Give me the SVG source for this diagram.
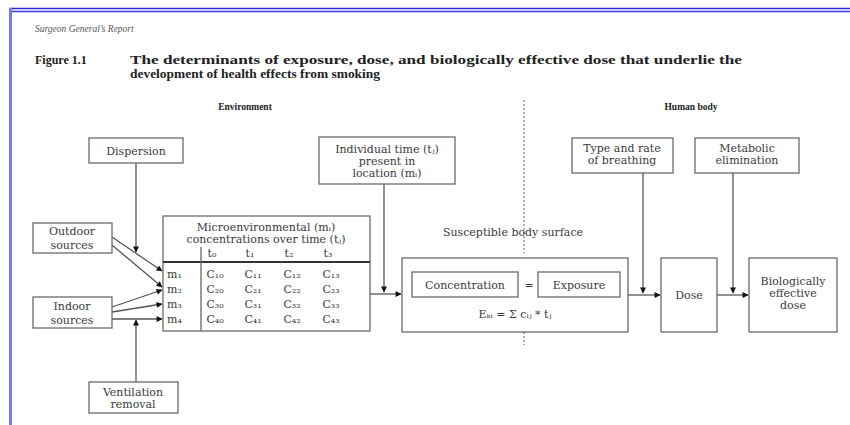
<svg xmlns="http://www.w3.org/2000/svg" width="850" height="425" viewBox="0 0 850 425">
<defs>
<marker id="ah" viewBox="0 0 10 10" refX="9" refY="5" markerWidth="7" markerHeight="6" orient="auto" markerUnits="userSpaceOnUse">
<path d="M0,0 L10,5 L0,10 z" fill="#111"/>
</marker>
</defs>
<style>
.bx{fill:#fff;stroke:#6a6a6a;stroke-width:1.3}
.t{font-family:"DejaVu Serif","Liberation Serif",serif;fill:#3a3a3a;font-size:11px}
.tb{font-family:"Liberation Serif","DejaVu Serif",serif;fill:#222;font-weight:bold}
.c{text-anchor:middle}
.ln{stroke:#666;stroke-width:1.3;fill:none}
.la{stroke:#555;stroke-width:1.3;fill:none;marker-end:url(#ah)}
</style>
<rect x="0" y="0" width="850" height="425" fill="#fff"/>
<g id="frame">
<line x1="9" y1="8.5" x2="850" y2="8.5" stroke="#2b2bdd" stroke-width="1.3"/>
<line x1="9" y1="11.5" x2="850" y2="11.5" stroke="#3b3bee" stroke-width="1.3"/>
<line x1="10.5" y1="8" x2="10.5" y2="425" stroke="#7a7af5" stroke-width="3"/>
</g>
<g id="header">
<text x="35" y="32" font-family="Liberation Serif, serif" font-style="italic" font-size="9.5" fill="#555">Surgeon General’s Report</text>
<text class="tb" x="35" y="64" font-size="12">Figure 1.1</text>
<text class="tb" x="130" y="64" font-size="12" textLength="612" lengthAdjust="spacingAndGlyphs">The determinants of exposure, dose, and biologically effective dose that underlie the</text>
<text class="tb" x="130" y="78" font-size="12" textLength="250" lengthAdjust="spacingAndGlyphs">development of health effects from smoking</text>
<text class="tb c" x="245" y="110" font-size="9.5">Environment</text>
<text class="tb c" x="691" y="110" font-size="9.5">Human body</text>
</g>
<g id="divider">
<line x1="524" y1="100" x2="524" y2="253" stroke="#888" stroke-width="1.3" stroke-dasharray="2,2"/>
<line x1="524" y1="332" x2="524" y2="345" stroke="#888" stroke-width="1.3" stroke-dasharray="2,2"/>
</g>
<g id="connectors">
<line class="la" x1="136" y1="162" x2="136" y2="252"/>
<line class="la" x1="112" y1="237" x2="162" y2="271"/>
<line class="la" x1="112" y1="245" x2="162" y2="287"/>
<line class="la" x1="112" y1="307" x2="162" y2="290"/>
<line class="la" x1="112" y1="312" x2="162" y2="304"/>
<line class="la" x1="112" y1="319" x2="162" y2="319"/>
<line class="la" x1="136" y1="382" x2="136" y2="320"/>
<line class="la" x1="384" y1="184" x2="384" y2="292"/>
<line class="la" x1="370" y1="294" x2="401" y2="294"/>
<line class="la" x1="643" y1="173" x2="643" y2="293"/>
<line class="la" x1="628" y1="295" x2="660" y2="295"/>
<line class="la" x1="733" y1="173" x2="733" y2="293"/>
<line class="la" x1="717" y1="295" x2="748" y2="295"/>
</g>
<g id="dispersion">
<rect class="bx" x="89" y="138" width="94" height="25"/>
<text class="t c" x="136" y="155" font-size="11.5">Dispersion</text>
</g>
<g id="outdoor">
<rect class="bx" x="33" y="223" width="79" height="30"/>
<text class="t c" x="72" y="235" font-size="10.5">Outdoor</text>
<text class="t c" x="72" y="249" font-size="8">sources</text>
</g>
<g id="indoor">
<rect class="bx" x="33" y="297" width="79" height="31"/>
<text class="t c" x="72" y="310" font-size="10.5">Indoor</text>
<text class="t c" x="72" y="324" font-size="8">sources</text>
</g>
<g id="ventilation">
<rect class="bx" x="89" y="382" width="89" height="31"/>
<text class="t c" x="133" y="396" font-size="11">Ventilation</text>
<text class="t c" x="133" y="408" font-size="10.5">removal</text>
</g>
<g id="table">
<rect class="bx" x="163" y="216" width="207" height="115"/>
<text class="t c" x="266" y="231" font-size="11">Microenvironmental (mᵢ)</text>
<text class="t c" x="266" y="243" font-size="11">concentrations over time (tⱼ)</text>
<line x1="163" y1="262" x2="370" y2="262" stroke="#333" stroke-width="2"/>
<line class="ln" x1="201" y1="247" x2="201" y2="331"/>
<g class="t c" font-size="9">
<text x="212" y="257">t₀</text><text x="250" y="257">t₁</text><text x="289" y="257">t₂</text><text x="328" y="257">t₃</text>
</g>
<g class="t" font-size="11">
<text x="167" y="278">m₁</text><text x="167" y="293">m₂</text><text x="167" y="308">m₃</text><text x="167" y="323">m₄</text>
</g>
<g class="t c" font-size="11">
<text x="215" y="278">C₁₀</text><text x="253" y="278">C₁₁</text><text x="292" y="278">C₁₂</text><text x="331" y="278">C₁₃</text>
<text x="215" y="293">C₂₀</text><text x="253" y="293">C₂₁</text><text x="292" y="293">C₂₂</text><text x="331" y="293">C₂₃</text>
<text x="215" y="308">C₃₀</text><text x="253" y="308">C₃₁</text><text x="292" y="308">C₃₂</text><text x="331" y="308">C₃₃</text>
<text x="215" y="323">C₄₀</text><text x="253" y="323">C₄₁</text><text x="292" y="323">C₄₂</text><text x="331" y="323">C₄₃</text>
</g>
</g>
<g id="individual-time">
<rect class="bx" x="319" y="137" width="136" height="47"/>
<text class="t c" x="387" y="153" font-size="10.5">Individual time (tⱼ)</text>
<text class="t c" x="387" y="165" font-size="10.5">present in</text>
<text class="t c" x="387" y="177" font-size="10.5">location (mᵢ)</text>
</g>
<text class="t c" x="513" y="236" font-size="10.5">Susceptible body surface</text>
<g id="exposure-box">
<rect class="bx" x="402" y="258" width="226" height="74"/>
<rect class="bx" x="412" y="272" width="106" height="25"/>
<text class="t c" x="465" y="289" font-size="11">Concentration</text>
<text class="t c" x="529" y="289" font-size="11">=</text>
<rect class="bx" x="538" y="272" width="82" height="25"/>
<text class="t c" x="579" y="289" font-size="11">Exposure</text>
<text class="t c" x="515" y="318" font-size="10.5">Eₖᵢ = Σ cᵢⱼ * tⱼ</text>
</g>
<g id="breathing">
<rect class="bx" x="572" y="138" width="101" height="35"/>
<text class="t c" x="622" y="152" font-size="10.5">Type and rate</text>
<text class="t c" x="622" y="164" font-size="10.5">of breathing</text>
</g>
<g id="metabolic">
<rect class="bx" x="695" y="138" width="104" height="35"/>
<text class="t c" x="747" y="152" font-size="10.5">Metabolic</text>
<text class="t c" x="747" y="164" font-size="10.5">elimination</text>
</g>
<g id="dose">
<rect class="bx" x="661" y="258" width="56" height="74"/>
<text class="t c" x="689" y="299" font-size="10.5">Dose</text>
</g>
<g id="bed">
<rect class="bx" x="749" y="258" width="88" height="74"/>
<text class="t c" x="793" y="285" font-size="10.5">Biologically</text>
<text class="t c" x="793" y="297" font-size="10.5">effective</text>
<text class="t c" x="793" y="309" font-size="10.5">dose</text>
</g>
</svg>
